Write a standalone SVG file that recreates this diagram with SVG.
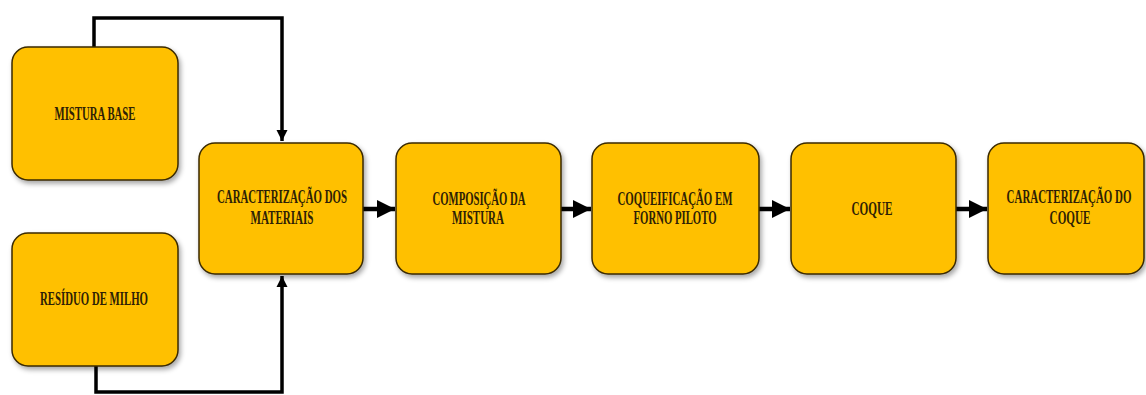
<svg xmlns="http://www.w3.org/2000/svg" width="1146" height="395" viewBox="0 0 1146 395">
  <style>
    .box { fill: #FFC000; stroke: #3a2a05; stroke-width: 1.5; filter: url(#shadow); }
    .lbl { font-family: "Liberation Serif", "Times New Roman", serif; font-weight: bold; font-size: 18.5px; fill: #2e2105; text-anchor: middle; }
    .wire { fill: none; stroke: #000; stroke-width: 3.5; stroke-linejoin: miter; }
    .flow { fill: none; stroke: #000; stroke-width: 4.5; }
  </style>
  <defs>
    <filter id="shadow" x="-10%" y="-10%" width="125%" height="130%">
      <feDropShadow dx="2" dy="3" stdDeviation="2.5" flood-color="#000" flood-opacity="0.35"/>
    </filter>
    <marker id="head" viewBox="0 0 10 10" refX="10" refY="5" markerWidth="4" markerHeight="4" orient="auto" markerUnits="strokeWidth">
      <path d="M0,0 L10,5 L0,10 z" fill="#000"/>
    </marker>
    <marker id="headThin" viewBox="0 0 10 10" refX="10" refY="5" markerWidth="3.2" markerHeight="3.6" orient="auto" markerUnits="strokeWidth">
      <path d="M0,0 L10,5 L0,10 z" fill="#000"/>
    </marker>
  </defs>

  <!-- connectors -->
  <g id="connectors">
    <path class="wire" d="M94,48 V18 H282 V141" marker-end="url(#headThin)"/>
    <path class="wire" d="M96,366 V392 H282 V276" marker-end="url(#headThin)"/>
    <path class="flow" d="M363,209 H395" marker-end="url(#head)"/>
    <path class="flow" d="M561,209 H591" marker-end="url(#head)"/>
    <path class="flow" d="M759,209 H790" marker-end="url(#head)"/>
    <path class="flow" d="M956,209 H987" marker-end="url(#head)"/>
  </g>

  <g id="mistura-base">
    <rect class="box" x="12" y="47" width="166" height="133" rx="16"/>
    <text class="lbl" x="95" y="120" textLength="81" lengthAdjust="spacingAndGlyphs">MISTURA BASE</text>
  </g>

  <g id="residuo-milho">
    <rect class="box" x="12" y="233" width="166" height="133" rx="16"/>
    <text class="lbl" x="94" y="305" textLength="108" lengthAdjust="spacingAndGlyphs">RESÍDUO DE MILHO</text>
  </g>

  <g id="caracterizacao-materiais">
    <rect class="box" x="199" y="143" width="164" height="131" rx="16"/>
    <text class="lbl" x="282" y="203" textLength="130" lengthAdjust="spacingAndGlyphs">CARACTERIZAÇÃO DOS</text>
    <text class="lbl" x="282" y="224" textLength="63" lengthAdjust="spacingAndGlyphs">MATERIAIS</text>
  </g>

  <g id="composicao-mistura">
    <rect class="box" x="396" y="143" width="165" height="131" rx="16"/>
    <text class="lbl" x="479" y="205" textLength="93" lengthAdjust="spacingAndGlyphs">COMPOSIÇÃO DA</text>
    <text class="lbl" x="478" y="224" textLength="52" lengthAdjust="spacingAndGlyphs">MISTURA</text>
  </g>

  <g id="coqueificacao">
    <rect class="box" x="592" y="143" width="167" height="131" rx="16"/>
    <text class="lbl" x="675" y="205" textLength="115" lengthAdjust="spacingAndGlyphs">COQUEIFICAÇÃO EM</text>
    <text class="lbl" x="675" y="224" textLength="83" lengthAdjust="spacingAndGlyphs">FORNO PILOTO</text>
  </g>

  <g id="coque">
    <rect class="box" x="791" y="143" width="165" height="131" rx="16"/>
    <text class="lbl" x="872" y="215" textLength="41" lengthAdjust="spacingAndGlyphs">COQUE</text>
  </g>

  <g id="caracterizacao-coque">
    <rect class="box" x="988" y="143" width="156" height="131" rx="16"/>
    <!-- condensed via horizontal scale so the label stays inside the right edge -->
    <text class="lbl" transform="translate(1069,203) scale(0.6,1)" x="0" y="0" textLength="208" lengthAdjust="spacingAndGlyphs">CARACTERIZAÇÃO DO</text>
    <text class="lbl" transform="translate(1070,224) scale(0.6,1)" x="0" y="0" textLength="68" lengthAdjust="spacingAndGlyphs">COQUE</text>
  </g>
</svg>
